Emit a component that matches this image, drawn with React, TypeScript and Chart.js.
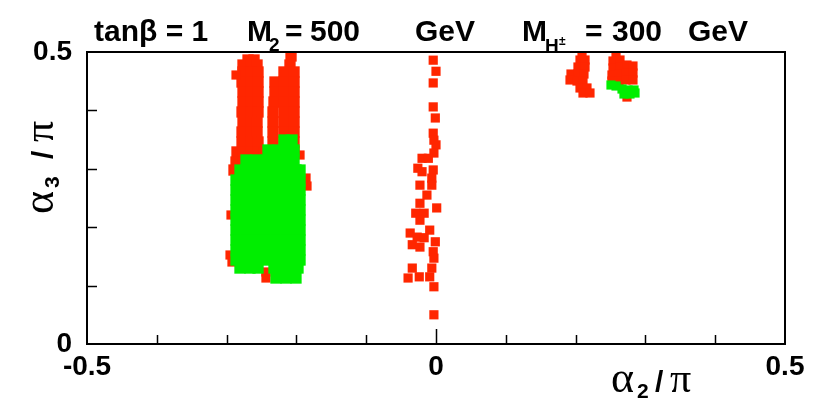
import React, { useEffect, useRef } from 'react';
import { Chart, registerables } from 'chart.js';

Chart.register(...registerables);

// ---- axes ----
const xRange = [-0.5, 0.5];
const yRange = [0, 0.5];
const xTickValues = [-0.5, 0, 0.5];
const xTickLabels = ['-0.5', '0', '0.5'];
const yTickValues = [0, 0.5];
const yTickLabels = ['0', '0.5'];
const xMinorTicks = [-0.4, -0.3, -0.2, -0.1, 0.1, 0.2, 0.3, 0.4];
const xMajorTicks = [0];
const yMinorTicks = [0.1, 0.2, 0.3, 0.4];

// ---- dense red band (left cluster), rows of [alpha3/pi, alpha2/pi values] ----
const redBandRows: [number, number[]][] = [
  [0.4932, [-0.2077]],
  [0.4863, [-0.2693, -0.2607]],
  [0.4777, [-0.2765, -0.265, -0.2564, -0.2092]],
  [0.4658, [-0.2765, -0.265, -0.255, -0.2178, -0.2034]],
  [0.4486, [-0.2779, -0.265, -0.255, -0.2307, -0.2178, -0.2034]],
  [0.4315, [-0.2765, -0.265, -0.255, -0.2307, -0.2178, -0.2034]],
  [0.4144, [-0.2765, -0.265, -0.255, -0.2321, -0.2178, -0.2034]],
  [0.3973, [-0.2779, -0.265, -0.255, -0.2335, -0.2178, -0.2034]],
  [0.3801, [-0.2765, -0.265, -0.2564, -0.2335, -0.2178, -0.2034]],
  [0.363, [-0.2779, -0.265, -0.2564, -0.2335, -0.2178, -0.2034]],
  [0.3459, [-0.2779, -0.265, -0.255, -0.2335, -0.2178, -0.2034]],
  [0.3288, [-0.2851, -0.2765, -0.265, -0.255, -0.2335, -0.2178, -0.2034]],
  [0.3116, [-0.2865, -0.2765, -0.265, -0.255]],
  [0.2979, [-0.2894]],
];

// ---- dense green band (left cluster) ----
const greenBandRows: [number, number[]][] = [
  [0.3493, [-0.2178, -0.2063]],
  [0.3322, [-0.2407, -0.2264, -0.212, -0.2034]],
  [0.3151, [-0.2722, -0.2579, -0.2436, -0.2292, -0.2149, -0.2034]],
  [0.2979, [-0.2808, -0.2722, -0.2579, -0.2436, -0.2292, -0.2149, -0.2006, -0.1948]],
  [0.2808, [-0.2865, -0.2722, -0.2579, -0.2436, -0.2292, -0.2149, -0.2006, -0.1948]],
  [0.2637, [-0.2865, -0.2722, -0.2579, -0.2436, -0.2292, -0.2149, -0.2006, -0.1948]],
  [0.2466, [-0.2865, -0.2722, -0.2579, -0.2436, -0.2292, -0.2149, -0.2006, -0.1948]],
  [0.2295, [-0.2865, -0.2722, -0.2579, -0.2436, -0.2292, -0.2149, -0.2006, -0.1948]],
  [0.2123, [-0.2865, -0.2722, -0.2579, -0.2436, -0.2292, -0.2149, -0.2006, -0.1948]],
  [0.1952, [-0.2865, -0.2722, -0.2579, -0.2436, -0.2292, -0.2149, -0.2006, -0.1948]],
  [0.1781, [-0.2865, -0.2722, -0.2579, -0.2436, -0.2292, -0.2149, -0.2006, -0.1948]],
  [0.161, [-0.2865, -0.2722, -0.2579, -0.2436, -0.2292, -0.2149, -0.2006, -0.1948]],
  [0.1438, [-0.2865, -0.2722, -0.2579, -0.2436, -0.2292, -0.2149, -0.2006, -0.1948]],
  [0.1301, [-0.2808, -0.2665, -0.255, -0.2321, -0.2178, -0.2034, -0.1977]],
  [0.113, [-0.2292, -0.2149, -0.2006]],
];

// ---- single red points: fringe of left cluster ----
const redFringeX = [-0.2937, -0.2951, -0.2923, -0.2436, -0.2436, -0.1862, -0.1848, -0.1948, -0.2865, -0.2479];
const redFringeY = [0.2209, 0.1524, 0.1404, 0.1233, 0.113, 0.2842, 0.2705, 0.3236, 0.4606, 0.3288];

// ---- single red points: stripe near alpha2 = 0 ----
const stripeX = [
  -0.004, 0.0, -0.004, -0.004, -0.001, -0.004, -0.003, 0.0, -0.003, -0.02,
  -0.011, -0.026, -0.02, -0.004, -0.006, -0.023, -0.006, -0.013, -0.023, 0.001,
  -0.029, -0.017, -0.023, -0.009, -0.037, -0.027, -0.017, -0.034, -0.023, -0.001,
  -0.004, -0.003, -0.006, -0.009, -0.034, -0.04, -0.024, -0.003, -0.003,
];
const stripeY = [
  0.486, 0.467, 0.447, 0.406, 0.387, 0.361, 0.349, 0.341, 0.327, 0.318,
  0.318, 0.301, 0.295, 0.298, 0.284, 0.272, 0.272, 0.255, 0.241, 0.233,
  0.224, 0.224, 0.212, 0.195, 0.19, 0.183, 0.182, 0.17, 0.166, 0.175,
  0.158, 0.147, 0.13, 0.115, 0.13, 0.113, 0.115, 0.098, 0.05,
];

// ---- single red points: upper right clusters ----
const redUpperX = [
  0.2092, 0.2063, 0.2135, 0.2034, 0.2135, 0.1934, 0.2034, 0.212, 0.192, 0.202,
  0.2106, 0.2063, 0.2163, 0.2106, 0.2206,
  0.2579, 0.2536, 0.2636, 0.2536, 0.2636, 0.2736, 0.2822, 0.2521, 0.2622, 0.2722,
  0.2822, 0.2521, 0.2622, 0.2722, 0.2822, 0.2736,
];
const redUpperY = [
  0.4983, 0.4863, 0.4863, 0.4743, 0.4743, 0.4623, 0.4623, 0.4623, 0.4521, 0.4503,
  0.4503, 0.4384, 0.4384, 0.4298, 0.4298,
  0.4966, 0.4846, 0.4863, 0.4726, 0.4743, 0.4777, 0.476, 0.4606, 0.4623, 0.464,
  0.464, 0.4503, 0.4503, 0.4521, 0.4521, 0.4229,
];

// ---- single green points: upper right cluster ----
const greenUpperX = [0.2507, 0.2579, 0.2665, 0.2751, 0.2837, 0.2693, 0.2779, 0.2851];
const greenUpperY = [0.4435, 0.4418, 0.4366, 0.4349, 0.4349, 0.4281, 0.4281, 0.4298];

const RED = 'rgb(255,38,0)';
const GREEN = 'rgb(0,238,0)';

const fromRows = (rows: [number, number[]][]) =>
  rows.flatMap(([y, xs]) => xs.map((x) => ({ x, y })));
const fromXY = (xs: number[], ys: number[]) => xs.map((x, i) => ({ x, y: ys[i] }));

const SANS = '"Liberation Sans", Arial, sans-serif';
const SERIF = '"Liberation Serif", "Times New Roman", serif';

const overlay = {
  id: 'overlay',
  afterDatasetsDraw(chart: any) {
    const { ctx, chartArea: a, scales } = chart;
    const xs = scales.x;
    const ys = scales.y;
    ctx.save();
    ctx.strokeStyle = '#000';
    ctx.lineWidth = 2;
    ctx.strokeRect(a.left, a.top, a.right - a.left, a.bottom - a.top);
    ctx.lineWidth = 1.5;
    ctx.beginPath();
    xMinorTicks.forEach((v) => {
      const px = Math.round(xs.getPixelForValue(v)) + 0.5;
      ctx.moveTo(px, a.bottom);
      ctx.lineTo(px, a.bottom - 9);
    });
    xMajorTicks.forEach((v) => {
      const px = Math.round(xs.getPixelForValue(v)) + 0.5;
      ctx.moveTo(px, a.bottom);
      ctx.lineTo(px, a.bottom - 15);
    });
    yMinorTicks.forEach((v) => {
      const py = Math.round(ys.getPixelForValue(v)) + 0.5;
      ctx.moveTo(a.left, py);
      ctx.lineTo(a.left + 10, py);
    });
    ctx.stroke();

    ctx.fillStyle = '#000';
    ctx.textBaseline = 'alphabetic';
    ctx.textAlign = 'left';
    const big = `bold 30px ${SANS}`;
    const sub = `bold 19px ${SANS}`;
    // title line
    ctx.font = big;
    ctx.fillText('tanβ = 1', 94, 41);
    ctx.fillText('M', 247, 41);
    ctx.font = sub;
    ctx.fillText('2', 269, 51);
    ctx.font = big;
    ctx.fillText('=', 285, 41);
    ctx.fillText('500', 310, 41);
    ctx.fillText('GeV', 415, 41);
    ctx.fillText('M', 522, 41);
    ctx.font = sub;
    ctx.fillText('H', 545, 52);
    ctx.font = `bold 12px ${SANS}`;
    ctx.fillText('±', 559, 45);
    ctx.font = big;
    ctx.fillText('=', 585, 41);
    ctx.fillText('300', 612, 41);
    ctx.fillText('GeV', 688, 41);

    // x axis title
    ctx.font = `44px ${SERIF}`;
    ctx.fillText('α', 611, 392);
    ctx.font = `bold 21px ${SANS}`;
    ctx.fillText('2', 637, 398);
    ctx.font = `bold 30px ${SANS}`;
    ctx.fillText('/', 655, 392);
    ctx.font = `42px ${SERIF}`;
    ctx.fillText('π', 670, 392);

    // y axis title (rotated)
    ctx.translate(53, 214);
    ctx.rotate(-Math.PI / 2);
    ctx.font = `44px ${SERIF}`;
    ctx.fillText('α', 0, 0);
    ctx.font = `bold 21px ${SANS}`;
    ctx.fillText('3', 26, 6);
    ctx.font = `bold 30px ${SANS}`;
    ctx.fillText('/', 55, 0);
    ctx.font = `42px ${SERIF}`;
    ctx.fillText('π', 72, 0);
    ctx.restore();
  },
};

export default function App() {
  const ref = useRef<HTMLCanvasElement | null>(null);
  useEffect(() => {
    document.body.style.margin = '0';
    const canvas = ref.current;
    if (!canvas) return;
    const tickFont = { family: SANS, size: 28, weight: 'bold' as const };
    const chart = new Chart(canvas, {
      type: 'scatter',
      data: {
        datasets: [
          {
            label: 'allowed (green)',
            data: fromRows(greenBandRows),
            backgroundColor: GREEN,
            pointStyle: 'rect',
            pointRadius: 8,
            borderWidth: 0,
            order: 1,
          },
          {
            label: 'allowed (green) single',
            data: fromXY(greenUpperX, greenUpperY),
            backgroundColor: GREEN,
            pointStyle: 'rect',
            pointRadius: 6.5,
            borderWidth: 0,
            order: 0,
          },
          {
            label: 'red band',
            data: fromRows(redBandRows),
            backgroundColor: RED,
            pointStyle: 'rect',
            pointRadius: 8,
            borderWidth: 0,
            order: 3,
          },
          {
            label: 'red points',
            data: [
              ...fromXY(redFringeX, redFringeY),
              ...fromXY(stripeX, stripeY),
              ...fromXY(redUpperX, redUpperY),
            ],
            backgroundColor: RED,
            pointStyle: 'rect',
            pointRadius: 6.5,
            borderWidth: 0,
            order: 2,
          },
        ],
      },
      options: {
        responsive: false,
        animation: false,
        events: [],
        layout: { padding: { top: 52, right: 29, bottom: 0, left: 0 } },
        plugins: { legend: { display: false }, tooltip: { enabled: false }, title: { display: false } },
        scales: {
          x: {
            type: 'linear',
            min: xRange[0],
            max: xRange[1],
            grid: { display: false },
            border: { display: false },
            afterFit: (s: any) => {
              s.height = 62;
            },
            afterBuildTicks: (s: any) => {
              s.ticks = xTickValues.map((v) => ({ value: v }));
            },
            ticks: {
              autoSkip: false,
              maxRotation: 0,
              padding: -2,
              color: '#000',
              font: tickFont,
              callback: (v: any) => {
                const i = xTickValues.findIndex((t) => Math.abs(t - Number(v)) < 1e-9);
                return i >= 0 ? xTickLabels[i] : '';
              },
            },
          },
          y: {
            type: 'linear',
            min: yRange[0],
            max: yRange[1],
            grid: { display: false },
            border: { display: false },
            afterFit: (s: any) => {
              s.width = 87;
            },
            afterBuildTicks: (s: any) => {
              s.ticks = yTickValues.map((v) => ({ value: v }));
            },
            ticks: {
              autoSkip: false,
              padding: 7,
              color: '#000',
              font: tickFont,
              callback: (v: any) => {
                const i = yTickValues.findIndex((t) => Math.abs(t - Number(v)) < 1e-9);
                return i >= 0 ? yTickLabels[i] : '';
              },
            },
          },
        },
      },
      plugins: [overlay],
    });
    return () => chart.destroy();
  }, []);
  return (
    <div style={{ width: 814, height: 406, background: '#fff' }}>
      <canvas ref={ref} width={814} height={406} style={{ display: 'block' }} />
    </div>
  );
}
